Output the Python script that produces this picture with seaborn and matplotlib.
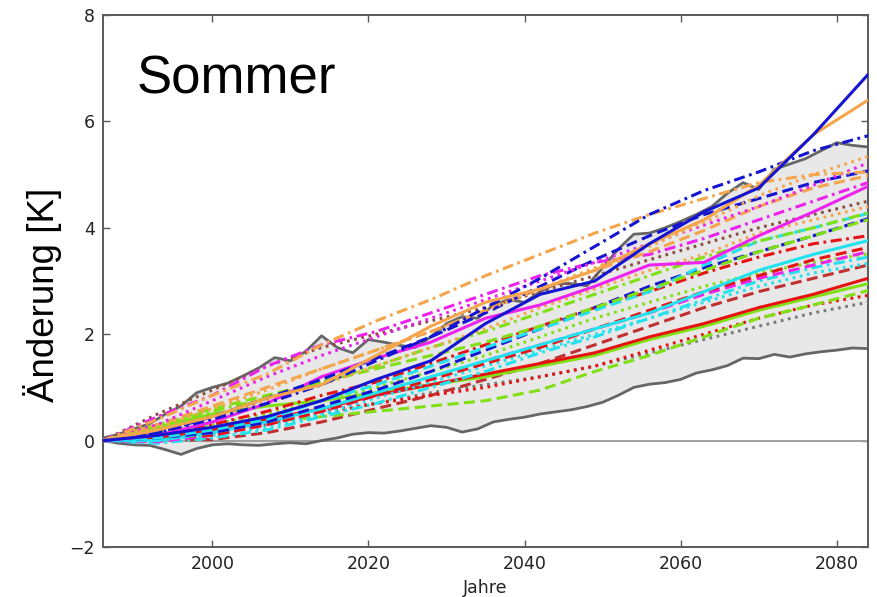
import numpy as np
import pandas as pd
import matplotlib
matplotlib.use("Agg")
import matplotlib.pyplot as plt
import seaborn as sns

# ---- data -------------------------------------------------------------
years = [1986, 1993, 2000, 2007, 2014, 2021, 2028, 2035, 2042, 2049, 2056, 2063, 2070, 2077, 2084]

gray_dotted_hi = [0.0, 0.5, 0.95, 1.4, 1.75, 2.0, 2.25, 2.5, 2.8, 3.1, 3.4, 3.7, 4.0, 4.25, 4.5]
gray_dotted_lo = [0.0, 0.05, 0.15, 0.3, 0.5, 0.7, 0.9, 1.05, 1.2, 1.4, 1.65, 1.9, 2.15, 2.4, 2.6]
brown_dashed = [0.0, 0.0, 0.02, 0.15, 0.35, 0.6, 0.85, 1.15, 1.45, 1.8, 2.15, 2.5, 2.8, 3.05, 3.3]
red_dotted = [0.0, 0.05, 0.15, 0.35, 0.55, 0.7, 0.85, 1.0, 1.2, 1.4, 1.7, 2.0, 2.3, 2.55, 2.73]
green_dashed = [0.0, 0.1, 0.25, 0.35, 0.45, 0.55, 0.65, 0.75, 0.95, 1.3, 1.6, 1.95, 2.3, 2.55, 2.82]
green_solid = [0.0, 0.25, 0.5, 0.65, 0.75, 0.9, 1.05, 1.2, 1.4, 1.6, 1.9, 2.15, 2.45, 2.7, 2.95]
red_solid = [0.0, 0.05, 0.2, 0.4, 0.6, 0.85, 1.05, 1.25, 1.45, 1.65, 1.95, 2.2, 2.5, 2.75, 3.05]
cyan_dashdot = [0.0, -0.05, 0.05, 0.2, 0.45, 0.7, 1.0, 1.3, 1.65, 1.95, 2.3, 2.65, 3.0, 3.25, 3.45]
cyan_dotted = [0.0, 0.0, 0.1, 0.25, 0.5, 0.8, 1.1, 1.4, 1.7, 2.0, 2.3, 2.6, 2.9, 3.15, 3.33]
green_dotted = [0.0, 0.15, 0.3, 0.5, 0.75, 1.0, 1.3, 1.6, 1.95, 2.3, 2.6, 2.9, 3.15, 3.35, 3.51]
magenta_dashed = [0.0, -0.02, 0.1, 0.3, 0.55, 0.85, 1.15, 1.5, 1.8, 2.1, 2.4, 2.75, 3.05, 3.3, 3.55]
red_dashed = [0.0, 0.05, 0.1, 0.3, 0.55, 0.85, 1.15, 1.45, 1.75, 2.1, 2.45, 2.8, 3.1, 3.4, 3.63]
cyan_solid = [0.0, 0.0, 0.15, 0.35, 0.6, 0.9, 1.2, 1.5, 1.8, 2.1, 2.4, 2.8, 3.2, 3.5, 3.76]
red_dashdot = [0.0, 0.1, 0.3, 0.55, 0.85, 1.1, 1.45, 1.8, 2.15, 2.5, 2.8, 3.15, 3.45, 3.7, 3.85]
blue_dashed_lo = [0.0, 0.05, 0.15, 0.35, 0.65, 0.95, 1.3, 1.7, 2.1, 2.5, 2.9, 3.25, 3.55, 3.85, 4.17]
cyan_dashed = [0.0, 0.05, 0.2, 0.4, 0.75, 1.05, 1.4, 1.75, 2.1, 2.45, 2.8, 3.3, 3.75, 4.0, 4.27]
green_dashdot = [0.0, 0.3, 0.55, 0.8, 1.1, 1.4, 1.75, 2.05, 2.4, 2.75, 3.1, 3.45, 3.75, 4.0, 4.28]
green_dashed_hi = [0.0, 0.3, 0.6, 0.85, 1.1, 1.35, 1.6, 1.85, 2.15, 2.5, 2.85, 3.2, 3.55, 3.85, 4.15]
orange_dotted_lo = [0.0, 0.2, 0.45, 0.75, 1.05, 1.4, 1.75, 2.1, 2.5, 2.85, 3.2, 3.5, 3.9, 4.15, 4.4]
magenta_solid = [0.0, 0.1, 0.35, 0.7, 1.2, 1.55, 1.85, 2.3, 2.55, 2.9, 3.3, 3.35, 3.85, 4.3, 4.78]
magenta_dashdot = [0.0, 0.45, 0.85, 1.4, 1.8, 2.05, 2.4, 2.75, 3.1, 3.35, 3.5, 3.8, 4.15, 4.5, 4.85]
orange_dashed = [0.0, 0.3, 0.65, 1.0, 1.35, 1.7, 2.05, 2.45, 2.85, 3.2, 3.55, 3.95, 4.4, 4.75, 4.98]
blue_dashed_hi = [0.0, 0.15, 0.45, 0.8, 1.15, 1.55, 1.95, 2.4, 2.9, 3.4, 3.85, 4.25, 4.55, 4.85, 5.07]
magenta_dotted = [0.0, 0.3, 0.75, 1.2, 1.6, 1.95, 2.3, 2.65, 3.0, 3.35, 3.7, 4.05, 4.4, 4.8, 5.22]
orange_dotted_hi = [0.0, 0.25, 0.6, 0.95, 1.35, 1.7, 2.05, 2.45, 2.85, 3.25, 3.65, 4.1, 4.6, 5.0, 5.34]
orange_dashdot = [0.0, 0.4, 0.85, 1.25, 1.8, 2.25, 2.65, 3.1, 3.5, 3.9, 4.25, 4.55, 4.85, 5.0, 5.05]
blue_dashdot = [0.0, 0.15, 0.4, 0.7, 1.05, 1.5, 1.95, 2.5, 3.05, 3.65, 4.25, 4.7, 5.05, 5.45, 5.73]
orange_solid = [0.0, 0.2, 0.45, 0.8, 1.05, 1.6, 2.15, 2.6, 2.85, 3.2, 3.7, 4.15, 4.8, 5.75, 6.4]
blue_solid = [0.0, 0.1, 0.25, 0.45, 0.75, 1.15, 1.5, 2.2, 2.75, 3.0, 3.7, 4.3, 4.75, 5.75, 6.88]

# ensemble range (every second year)
env_years = list(range(1986, 2085, 2))
env_upper = [0.05, 0.12, 0.22, 0.32, 0.5, 0.65, 0.9, 1.0, 1.08, 1.22, 1.37, 1.56, 1.5, 1.68,
             1.97, 1.75, 1.65, 1.9, 1.85, 1.79, 1.75, 1.95, 2.2, 2.33, 2.3, 2.55, 2.65, 2.6,
             2.8, 2.95, 2.95, 2.91, 3.25, 3.6, 3.88, 3.9, 4.0, 4.12, 4.25, 4.4, 4.65, 4.85,
             4.72, 5.1, 5.2, 5.3, 5.45, 5.6, 5.55, 5.52]
env_lower = [0.0, -0.05, -0.08, -0.09, -0.17, -0.26, -0.15, -0.08, -0.06, -0.08, -0.09, -0.06,
             -0.04, -0.06, 0.0, 0.05, 0.12, 0.15, 0.14, 0.18, 0.23, 0.28, 0.25, 0.16, 0.22,
             0.35, 0.4, 0.44, 0.5, 0.54, 0.58, 0.64, 0.72, 0.85, 1.0, 1.06, 1.09, 1.15, 1.27,
             1.33, 1.41, 1.55, 1.54, 1.62, 1.57, 1.63, 1.67, 1.7, 1.74, 1.73]

y_ticks = [-2, 0, 2, 4, 6, 8]
x_ticks = [2000, 2020, 2040, 2060, 2080]

# ---- styling of the individual runs ----------------------------------
BLUE, ORANGE, MAGENTA = "#1414d2", "#f5a54c", "#ee22ee"
CYAN, RED, GREEN = "#22e2ee", "#e61212", "#80e014"
BROWN, GREY = "#8a4f3f", "#7a7a7a"

DASH = (0, (3.6, 1.8))
DASHDOT = (0, (3.6, 1.5, 0.9, 1.5))
DOT = (0, (0.9, 1.5))

runs = [
    ("gray_dotted_hi", gray_dotted_hi, BROWN, DOT),
    ("gray_dotted_lo", gray_dotted_lo, GREY, DOT),
    ("brown_dashed", brown_dashed, "#c03030", DASH),
    ("red_dotted", red_dotted, RED, DOT),
    ("green_dashed", green_dashed, GREEN, DASH),
    ("green_solid", green_solid, GREEN, "-"),
    ("red_solid", red_solid, RED, "-"),
    ("cyan_dashdot", cyan_dashdot, CYAN, DASHDOT),
    ("cyan_dotted", cyan_dotted, CYAN, DOT),
    ("green_dotted", green_dotted, GREEN, DOT),
    ("magenta_dashed", magenta_dashed, MAGENTA, DASH),
    ("red_dashed", red_dashed, RED, DASH),
    ("cyan_solid", cyan_solid, CYAN, "-"),
    ("red_dashdot", red_dashdot, RED, DASHDOT),
    ("blue_dashed_lo", blue_dashed_lo, BLUE, DASH),
    ("cyan_dashed", cyan_dashed, CYAN, DASH),
    ("green_dashdot", green_dashdot, GREEN, DASHDOT),
    ("green_dashed_hi", green_dashed_hi, GREEN, DASH),
    ("orange_dotted_lo", orange_dotted_lo, ORANGE, DOT),
    ("magenta_solid", magenta_solid, MAGENTA, "-"),
    ("magenta_dashdot", magenta_dashdot, MAGENTA, DASHDOT),
    ("orange_dashed", orange_dashed, ORANGE, DASH),
    ("blue_dashed_hi", blue_dashed_hi, BLUE, DASH),
    ("magenta_dotted", magenta_dotted, MAGENTA, DOT),
    ("orange_dotted_hi", orange_dotted_hi, ORANGE, DOT),
    ("orange_dashdot", orange_dashdot, ORANGE, DASHDOT),
    ("blue_dashdot", blue_dashdot, BLUE, DASHDOT),
    ("orange_solid", orange_solid, ORANGE, "-"),
    ("blue_solid", blue_solid, BLUE, "-"),
]

df = pd.concat(
    [pd.DataFrame({"Jahr": years, "dT": vals, "Lauf": name}) for name, vals, _, _ in runs],
    ignore_index=True,
)
env = pd.DataFrame({"Jahr": env_years, "oben": env_upper, "unten": env_lower})

# ---- figure -----------------------------------------------------------
sns.set_theme(style="ticks")
plt.rcParams["font.family"] = ["DejaVu Sans"]

fig = plt.figure(figsize=(8.78, 5.97), dpi=100)
ax = fig.add_axes([103 / 878, 50 / 597, 765 / 878, 532 / 597])

ax.fill_between(env["Jahr"], env["unten"], env["oben"], color="#e8e8e8", lw=0, zorder=1)
ax.axhline(0, color="#a0a0a0", lw=1.4, zorder=2)

for i, (name, _, col, ls) in enumerate(runs):
    sns.lineplot(data=df[df["Lauf"] == name], x="Jahr", y="dT", ax=ax,
                 color=col, linestyle=ls, lw=2.2, legend=False, zorder=3 + i * 0.01)

for col in ["oben", "unten"]:
    sns.lineplot(data=env, x="Jahr", y=col, ax=ax, color="#666666", lw=2.0,
                 legend=False, zorder=2.5)

ax.set_xlim(1986, 2084)
ax.set_ylim(-2, 8)
ax.set_xticks(x_ticks)
ax.set_yticks(y_ticks)
ax.set_yticklabels(["\u22122"] + [str(t) for t in y_ticks[1:]])

for s in ax.spines.values():
    s.set_color("#5a5a5a")
    s.set_linewidth(1.4)
ax.tick_params(direction="in", top=True, right=True, length=5, width=1.0,
               color="#5a5a5a", labelsize=12.5, labelcolor="#222222", pad=6)

ax.set_xlabel("Jahre", fontsize=12.5, color="#222222", labelpad=4)
ax.set_ylabel("\u00c4nderung [K]", fontsize=26.5, color="black",
              family=["Liberation Sans", "DejaVu Sans"])
ax.yaxis.set_label_coords(-0.054, 0.474)

ax.text(0.044, 0.853, "Sommer", transform=ax.transAxes, fontsize=38,
        family=["Liberation Sans", "DejaVu Sans"], color="black", va="baseline", ha="left")

fig.savefig("out.png", dpi=100)
